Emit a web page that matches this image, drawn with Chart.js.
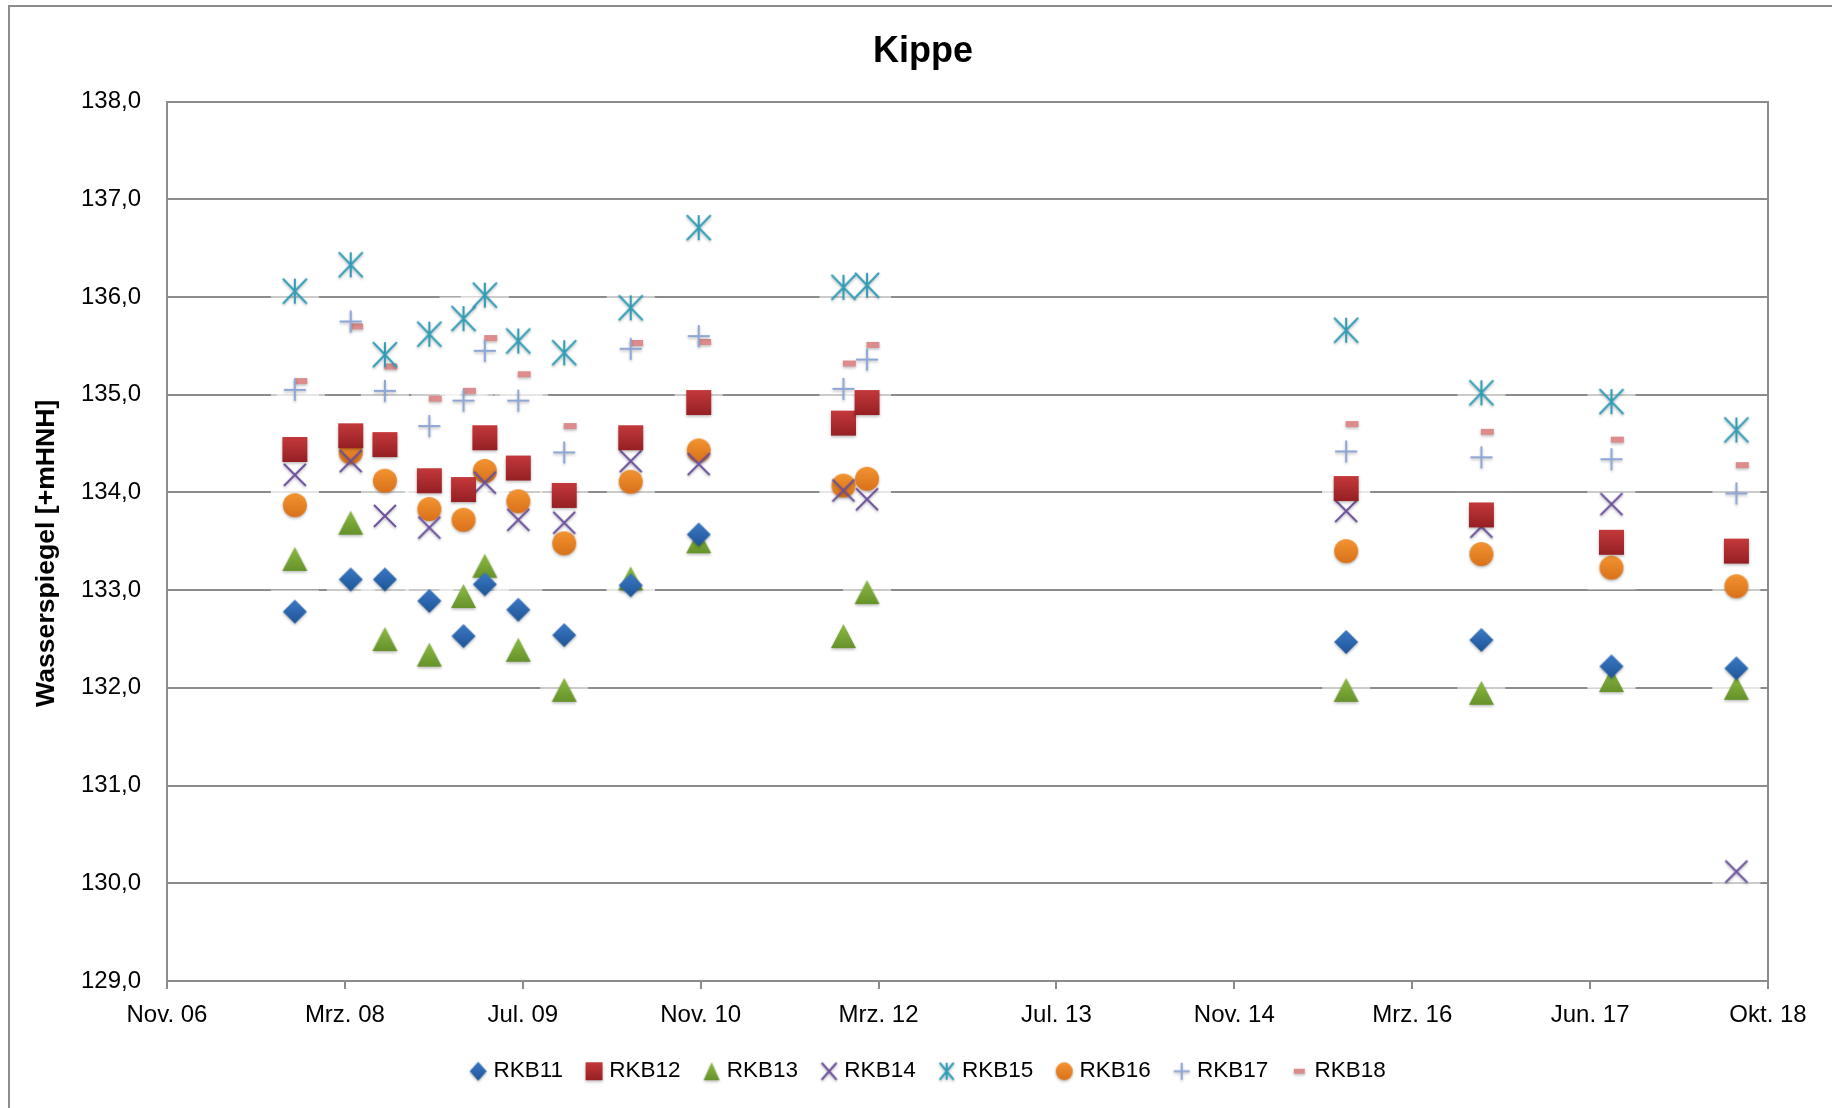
<!DOCTYPE html>
<html>
<head>
<meta charset="utf-8">
<title>Kippe</title>
<script src="https://cdn.jsdelivr.net/npm/chart.js@4.4.1/dist/chart.umd.min.js"></script>
<style>
  html, body { margin: 0; padding: 0; background: #fff; }
  #wrap { position: relative; width: 1832px; height: 1108px; }
</style>
</head>
<body>
<div id="wrap"><canvas id="chart" width="1832" height="1108"></canvas></div>
<script>
const dates = ['2007-10-24', '2008-03-24', '2008-06-25', '2008-10-24', '2009-01-25', '2009-03-24',
  '2009-06-23', '2009-10-26', '2010-04-25', '2010-10-27', '2011-11-25', '2012-01-28',
  '2015-08-24', '2016-08-26', '2017-08-15', '2018-07-21'];
const datesRKB18 = ['2007-11-09', '2008-04-09', '2008-07-11', '2008-11-09', '2009-02-10', '2009-04-09',
  '2009-07-09', '2009-11-11', '2010-05-11', '2010-11-12', '2011-12-11', '2012-02-13',
  '2015-09-09', '2016-09-11', '2017-08-31', '2018-08-06'];

// Wasserspiegel [+mHNH]
const rkb11 = [132.78, 133.11, 133.11, 132.89, 132.53, 133.06, 132.80, 132.54, 133.05, 133.57, null, null, 132.47, 132.49, 132.22, 132.20];
const rkb12 = [134.44, 134.58, 134.49, 134.12, 134.03, 134.56, 134.25, 133.97, 134.56, 134.92, 134.71, 134.92, 134.04, 133.77, 133.49, 133.40];
const rkb13 = [133.32, 133.69, 132.50, 132.34, 132.94, 133.25, 132.39, 131.98, 133.12, 133.50, 132.53, 132.98, 131.98, 131.95, 132.08, 132.00];
const rkb14 = [134.18, 134.32, 133.76, 133.64, 134.03, 134.10, 133.72, 133.69, 134.32, 134.29, 134.02, 133.93, 133.81, 133.65, 133.88, 130.12];
const rkb15 = [136.06, 136.33, 135.41, 135.62, 135.78, 136.02, 135.55, 135.43, 135.89, 136.71, 136.10, 136.12, 135.66, 135.02, 134.93, 134.64];
const rkb16 = [133.87, 134.41, 134.12, 133.83, 133.72, 134.22, 133.91, 133.48, 134.11, 134.43, 134.07, 134.14, 133.40, 133.37, 133.23, 133.04];
const rkb17 = [135.05, 135.75, 135.04, 134.68, 134.94, 135.45, 134.94, 134.41, 135.47, 135.60, 135.06, 135.36, 134.42, 134.36, 134.34, 133.99];
const rkb18 = [135.14, 135.70, 135.29, 134.96, 135.04, 135.58, 135.21, 134.68, 135.53, 135.54, 135.32, 135.51, 134.70, 134.62, 134.54, 134.28];

const seriesNames = ['RKB11', 'RKB12', 'RKB13', 'RKB14', 'RKB15', 'RKB16', 'RKB17', 'RKB18'];
const tickLabels = ['Nov. 06', 'Mrz. 08', 'Jul. 09', 'Nov. 10', 'Mrz. 12', 'Jul. 13', 'Nov. 14', 'Mrz. 16', 'Jun. 17', 'Okt. 18'];
const axisStart = '2006-11-10';
const axisEnd = '2018-10-15';

const GRAY = '#8c8c8c';
const FONT = "'Liberation Sans', Arial, sans-serif";

const toDay = s => {
    const [y, m, d] = s.split('-').map(Number);
    return Date.UTC(y, m - 1, d) / 864e5;
};

// marker images, drawn once and handed to Chart.js as pointStyle
function markerCanvas(w, h, paint) {
    const pad = 5;
    const c = document.createElement('canvas');
    c.width = Math.ceil(w + pad * 2);
    c.height = Math.ceil(h + pad * 2);
    const g = c.getContext('2d');
    g.translate(c.width / 2, c.height / 2);
    g.shadowColor = 'rgba(0,0,0,0.28)';
    g.shadowBlur = 3;
    g.shadowOffsetY = 1.5;
    paint(g, w / 2, h / 2);
    return c;
}

function grad(g, b, top, bottom) {
    const lg = g.createLinearGradient(0, -b, 0, b);
    lg.addColorStop(0, top);
    lg.addColorStop(1, bottom);
    return lg;
}

const painters = {
    diamond(g, a, b) {
        g.beginPath();
        g.moveTo(0, -b); g.lineTo(a, 0); g.lineTo(0, b); g.lineTo(-a, 0);
        g.closePath();
        g.fillStyle = grad(g, b, '#3b79c5', '#1f5597');
        g.fill();
    },
    square(g, a, b) {
        g.fillStyle = grad(g, b, '#c4393b', '#952024');
        g.fillRect(-a, -b, 2 * a, 2 * b);
    },
    triangle(g, a, b) {
        g.beginPath();
        g.moveTo(0, -b); g.lineTo(a, b); g.lineTo(-a, b);
        g.closePath();
        g.fillStyle = grad(g, b, '#8dba42', '#66922b');
        g.fill();
    },
    cross(g, a, b) {
        g.beginPath();
        g.moveTo(-a, -b); g.lineTo(a, b);
        g.moveTo(a, -b); g.lineTo(-a, b);
        g.strokeStyle = '#6a4e9c';
        g.lineWidth = 2;
        g.stroke();
    },
    star(g, a, b) {
        g.beginPath();
        g.moveTo(-a, -b); g.lineTo(a, b);
        g.moveTo(a, -b); g.lineTo(-a, b);
        g.moveTo(0, -b); g.lineTo(0, b);
        g.strokeStyle = '#2f9db6';
        g.lineWidth = 2;
        g.stroke();
    },
    circle(g, a, b) {
        g.beginPath();
        g.ellipse(0, 0, a, b, 0, 0, Math.PI * 2);
        g.fillStyle = grad(g, b, '#f39430', '#d9711b');
        g.fill();
    },
    plus(g, a, b) {
        g.beginPath();
        g.moveTo(-a, 0); g.lineTo(a, 0);
        g.moveTo(0, -b); g.lineTo(0, b);
        g.strokeStyle = '#8ea7d6';
        g.lineWidth = 2;
        g.stroke();
    },
    dash(g, a, b) {
        g.fillStyle = '#dc8c8c';
        g.fillRect(-a, -b, 2 * a, 2 * b);
    },
};

// shape, size on the plot, size in the legend
const markerStyles = [
    { shape: 'diamond', w: 24, h: 24, lw: 17, lh: 19 },
    { shape: 'square', w: 25, h: 25, lw: 17, lh: 18 },
    { shape: 'triangle', w: 25, h: 24, lw: 16, lh: 18 },
    { shape: 'cross', w: 22, h: 22, lw: 15, lh: 17 },
    { shape: 'star', w: 24, h: 25, lw: 14, lh: 17 },
    { shape: 'circle', w: 24, h: 24, lw: 17, lh: 18 },
    { shape: 'plus', w: 22, h: 22, lw: 16, lh: 17 },
    { shape: 'dash', w: 13, h: 6, lw: 11, lh: 5 },
];
const plotMarkers = markerStyles.map(s => markerCanvas(s.w, s.h, painters[s.shape]));
const legendMarkers = markerStyles.map(s => markerCanvas(s.lw, s.lh, painters[s.shape]));

const values = [rkb11, rkb12, rkb13, rkb14, rkb15, rkb16, rkb17, rkb18];
const datasets = values.map((vals, i) => {
    const when = i === 7 ? datesRKB18 : dates;
    return {
        label: seriesNames[i],
        data: vals.map((v, j) => ({ x: toDay(when[j]), y: v })).filter(p => p.y !== null),
        pointStyle: plotMarkers[i],
        pointRadius: 12,
        pointHoverRadius: 12,
        showLine: false,
    };
});

// soft light halo behind the markers (lightens the gridlines around them)
const haloPlugin = {
    id: 'halo',
    beforeDatasetsDraw(chart) {
        const { ctx, chartArea } = chart;
        ctx.save();
        ctx.beginPath();
        ctx.rect(chartArea.left + 2, chartArea.top, chartArea.width - 4, chartArea.height - 2);
        ctx.clip();
        ctx.fillStyle = 'rgba(255,255,255,0.55)';
        chart.data.datasets.forEach((ds, i) => {
            chart.getDatasetMeta(i).data.forEach(pt => {
                ctx.fillRect(pt.x - 24, pt.y - 22, 48, 44);
            });
        });
        ctx.restore();
    },
};

// outer chart frame, legend nudge and the rotated y-axis title
const framePlugin = {
    id: 'frame',
    afterLayout(chart) {
        // the legend row sits a little right of the title centre
        chart.legend.left += 7;
        chart.legend.right += 7;
    },
    beforeDraw(chart) {
        const { ctx, width, height } = chart;
        ctx.save();
        ctx.fillStyle = '#fff';
        ctx.fillRect(0, 0, width, height);
        ctx.strokeStyle = GRAY;
        ctx.lineWidth = 2;
        ctx.strokeRect(9, 6, width + 20, height + 20);
        ctx.restore();
    },
    afterDraw(chart) {
        const { ctx, chartArea } = chart;
        ctx.save();
        ctx.translate(46.5, (chartArea.top + chartArea.bottom) / 2 + 12);
        ctx.rotate(-Math.PI / 2);
        ctx.font = 'bold 26.6px ' + FONT;
        ctx.fillStyle = '#000';
        ctx.textAlign = 'center';
        ctx.textBaseline = 'middle';
        ctx.fillText('Wasserspiegel [+mHNH]', 0, 0);
        ctx.restore();
    },
};

new Chart(document.getElementById('chart'), {
    type: 'scatter',
    data: { datasets },
    options: {
        responsive: false,
        animation: false,
        devicePixelRatio: 1,
        layout: { padding: { left: 14, right: 0, top: 0, bottom: 15.5 } },
        plugins: {
            title: {
                display: true,
                text: 'Kippe',
                color: '#000',
                font: { family: FONT, size: 36, weight: 'bold' },
                padding: { top: 30, bottom: 28.4 },
            },
            legend: {
                position: 'bottom',
                labels: {
                    usePointStyle: true,
                    pointStyleWidth: 8,
                    padding: 27,
                    color: '#000',
                    font: { family: FONT, size: 22.5 },
                    generateLabels(chart) {
                        const items = Chart.defaults.plugins.legend.labels.generateLabels(chart);
                        items.forEach(it => { it.pointStyle = legendMarkers[it.datasetIndex]; });
                        return items;
                    },
                },
            },
            tooltip: { enabled: false },
        },
        scales: {
            x: {
                type: 'linear',
                min: toDay(axisStart),
                max: toDay(axisEnd),
                afterBuildTicks(scale) {
                    const n = tickLabels.length - 1;
                    scale.ticks = tickLabels.map((_, i) => ({ value: scale.min + i * (scale.max - scale.min) / n }));
                },
                afterFit(scale) { scale.height = 52; },
                ticks: {
                    autoSkip: false,
                    maxRotation: 0,
                    minRotation: 0,
                    padding: 12,
                    color: '#000',
                    font: { family: FONT, size: 24 },
                    callback: (v, i) => tickLabels[i],
                },
                grid: { drawOnChartArea: false, drawTicks: true, tickLength: 8, color: GRAY, lineWidth: 2 },
                border: { display: true, color: GRAY, width: 2 },
            },
            y: {
                min: 129,
                max: 138,
                afterFit(scale) { scale.width = 153; },
                ticks: {
                    stepSize: 1,
                    padding: 26,
                    color: '#000',
                    font: { family: FONT, size: 24 },
                    callback: v => v.toFixed(1).replace('.', ','),
                },
                grid: { drawTicks: false, color: GRAY, lineWidth: 2 },
                border: { display: true, color: GRAY, width: 2 },
            },
            // only carries the right-hand frame line of the plot area
            yRight: {
                position: 'right',
                min: 129,
                max: 138,
                afterFit(scale) { scale.width = 64; },
                ticks: { display: false },
                grid: { display: false },
                border: { display: true, color: GRAY, width: 2 },
            },
        },
    },
    plugins: [framePlugin, haloPlugin],
});
</script>
</body>
</html>
